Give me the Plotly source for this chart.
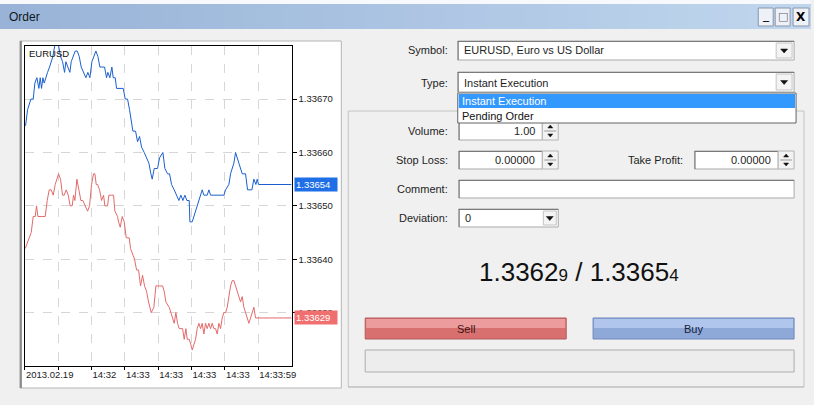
import plotly.graph_objects as go

W, H = 814, 405

# ---------------- data ----------------
ask_t = [0.02, 0.08, 0.18, 0.25, 0.30, 0.36, 0.42, 0.46, 0.50, 0.54, 0.58, 0.62, 0.68, 0.74, 0.80, 0.84,
         0.95, 1.07, 1.13, 1.19, 1.23, 1.29, 1.35, 1.39, 1.45, 1.51, 1.57, 1.63, 1.69, 1.77, 1.83, 1.89,
         1.95, 2.01, 2.07, 2.13, 2.19, 2.25, 2.31, 2.39, 2.45, 2.49, 2.55, 2.61, 2.65, 2.71, 2.75, 2.95,
         3.01, 3.08, 3.14, 3.19, 3.24, 3.32, 3.38, 3.44, 3.50, 3.58, 3.64, 3.72, 3.78, 3.82, 3.88, 3.98,
         4.04, 4.14, 4.20, 4.28, 4.34, 4.40, 4.48, 4.56, 4.62, 4.68, 4.74, 4.80, 4.86, 4.93, 4.95, 5.02,
         5.07, 5.13, 5.22, 5.27, 5.32, 5.37, 5.47, 5.52, 5.57, 5.97, 6.02, 6.12, 6.17, 6.27, 6.32, 6.42,
         6.52, 6.62, 6.68, 6.81, 6.87, 6.93, 6.97, 7.01, 8.00]
ask_price = [1.33665, 1.33668, 1.33670, 1.33670, 1.33673, 1.33674, 1.33672, 1.33674, 1.33672, 1.33674,
             1.33673, 1.33674, 1.33675, 1.33676, 1.33677, 1.33678, 1.33682, 1.33678, 1.33677, 1.33675,
             1.33677, 1.33676, 1.33675, 1.33677, 1.33678, 1.33679, 1.33679, 1.33678, 1.33676, 1.33675,
             1.33674, 1.33675, 1.33674, 1.33677, 1.33678, 1.33679, 1.33678, 1.33676, 1.33676, 1.33676,
             1.33674, 1.33675, 1.33674, 1.33676, 1.33674, 1.33674, 1.33672, 1.33672, 1.33670, 1.33670,
             1.33668, 1.33666, 1.33664, 1.33664, 1.33662, 1.33663, 1.33661, 1.33660, 1.33659, 1.33658,
             1.33656, 1.33655, 1.33657, 1.33657, 1.33659, 1.33660, 1.33657, 1.33656, 1.33656, 1.33654,
             1.33653, 1.33652, 1.33651, 1.33652, 1.33651, 1.33652, 1.33651, 1.33651, 1.33647, 1.33647,
             1.33648, 1.33649, 1.33651, 1.33652, 1.33653, 1.33652, 1.33652, 1.33653, 1.33652, 1.33652,
             1.33653, 1.33654, 1.33656, 1.33658, 1.33660, 1.33658, 1.33656, 1.33656, 1.33653, 1.33653,
             1.33655, 1.33654, 1.33655, 1.33654, 1.33654]

bid_t = [0.01, 0.07, 0.13, 0.19, 0.25, 0.31, 0.35, 0.39, 0.49, 0.61, 0.67, 0.73, 0.79, 0.85, 0.91, 0.97,
         1.01, 1.07, 1.13, 1.18, 1.24, 1.30, 1.36, 1.42, 1.46, 1.50, 1.56, 1.62, 1.68, 1.74, 1.80, 1.88,
         1.94, 2.00, 2.06, 2.10, 2.14, 2.18, 2.24, 2.30, 2.36, 2.40, 2.48, 2.52, 2.60, 2.66, 2.70, 2.78,
         2.81, 2.86, 2.92, 2.98, 3.04, 3.13, 3.17, 3.23, 3.29, 3.35, 3.41, 3.47, 3.53, 3.59, 3.65, 3.71,
         3.79, 3.87, 3.93, 4.03, 4.13, 4.18, 4.23, 4.33, 4.38, 4.43, 4.48, 4.53, 4.58, 4.63, 4.73, 4.78,
         4.83, 4.87, 4.93, 4.98, 5.02, 5.07, 5.12, 5.17, 5.22, 5.27, 5.32, 5.37, 5.42, 5.47, 5.52, 5.57,
         5.62, 5.67, 5.72, 5.77, 5.82, 5.87, 5.92, 5.97, 6.02, 6.07, 6.12, 6.17, 6.22, 6.27, 6.32, 6.37,
         6.42, 6.47, 6.52, 6.57, 6.62, 6.67, 6.72, 6.77, 6.82, 6.87, 6.92, 6.97, 8.00]
bid_price = [1.33642, 1.33643, 1.33644, 1.33645, 1.33648, 1.33648, 1.33650, 1.33648, 1.33648, 1.33648,
             1.33651, 1.33653, 1.33653, 1.33652, 1.33654, 1.33655, 1.33656, 1.33655, 1.33652, 1.33652,
             1.33653, 1.33652, 1.33650, 1.33650, 1.33652, 1.33651, 1.33655, 1.33653, 1.33651, 1.33651,
             1.33650, 1.33649, 1.33650, 1.33654, 1.33656, 1.33656, 1.33654, 1.33654, 1.33653, 1.33651,
             1.33652, 1.33650, 1.33650, 1.33652, 1.33652, 1.33652, 1.33649, 1.33648, 1.33647, 1.33646,
             1.33648, 1.33647, 1.33644, 1.33644, 1.33642, 1.33641, 1.33640, 1.33638, 1.33638, 1.33635,
             1.33637, 1.33635, 1.33634, 1.33632, 1.33630, 1.33631, 1.33635, 1.33635, 1.33635, 1.33634,
             1.33632, 1.33631, 1.33630, 1.33629, 1.33628, 1.33630, 1.33628, 1.33627, 1.33627, 1.33625,
             1.33627, 1.33625, 1.33625, 1.33624, 1.33623, 1.33624, 1.33625, 1.33627, 1.33628, 1.33627,
             1.33628, 1.33626, 1.33628, 1.33627, 1.33628, 1.33627, 1.33628, 1.33627, 1.33627, 1.33626,
             1.33628, 1.33627, 1.33629, 1.33630, 1.33630, 1.33631, 1.33633, 1.33635, 1.33636, 1.33636,
             1.33635, 1.33634, 1.33633, 1.33632, 1.33633, 1.33631, 1.33630, 1.33629, 1.33628, 1.33629,
             1.33630, 1.33631, 1.33629, 1.33629, 1.33629]

x_tick_vals = [0, 1, 2, 3, 4, 5, 6, 7]
x_tick_text = ["2013.02.19", "", "14:32", "14:33", "14:33", "14:33", "14:33", "14:33:59"]
y_tick_vals = [1.33630, 1.33640, 1.33650, 1.33660, 1.33670]
y_range = [1.33620, 1.33680]

symbol_text = "EURUSD, Euro vs US Dollar"
type_options = ["Instant Execution", "Pending Order"]
volume_text = "1.00"
stop_loss_text = "0.00000"
take_profit_text = "0.00000"
deviation_text = "0"

# ---------------- helpers ----------------
UI = "Liberation Sans, Arial, sans-serif"


def X(x):
    return x / W


def Y(y):
    return 1 - y / H


shapes = []
annotations = []


def rect(x0, y0, x1, y1, fill, line=None, lw=1, layer="above"):
    shapes.append(dict(type="rect", xref="paper", yref="paper",
                       x0=X(x0), y0=Y(y1), x1=X(x1), y1=Y(y0),
                       fillcolor=fill, layer=layer,
                       line=dict(color=line if line else "rgba(0,0,0,0)", width=lw if line else 0)))


def hline(x0, x1, y, color, lw=1, layer="above"):
    shapes.append(dict(type="line", xref="paper", yref="paper", x0=X(x0), x1=X(x1), y0=Y(y), y1=Y(y),
                       line=dict(color=color, width=lw), layer=layer))


def vline(x, y0, y1, color, lw=1, layer="above"):
    shapes.append(dict(type="line", xref="paper", yref="paper", x0=X(x), x1=X(x), y0=Y(y0), y1=Y(y1),
                       line=dict(color=color, width=lw), layer=layer))


def tri(cx, cy, w, h, up=False, color="#111"):
    if up:
        p = f"M {X(cx - w/2)} {Y(cy + h/2)} L {X(cx + w/2)} {Y(cy + h/2)} L {X(cx)} {Y(cy - h/2)} Z"
    else:
        p = f"M {X(cx - w/2)} {Y(cy - h/2)} L {X(cx + w/2)} {Y(cy - h/2)} L {X(cx)} {Y(cy + h/2)} Z"
    shapes.append(dict(type="path", xref="paper", yref="paper", path=p, fillcolor=color,
                       line=dict(color=color, width=0.5)))


def text(x, y, s, anchor="left", size=11, color="#1e1e1e", family=UI, **kw):
    annotations.append(dict(xref="paper", yref="paper", x=X(x), y=Y(y), text=s, showarrow=False,
                            xanchor=anchor, yanchor="middle", font=dict(size=size, color=color, family=family),
                            **kw))


def field(x0, y0, x1, y1):
    rect(x0, y0, x1, y1, "white", "#a9a9a9")
    hline(x0, x1, y0 + 0.5, "#7a7a7a")
    vline(x0 + 0.5, y0, y1, "#7a7a7a")


def spin(x0, y0, x1, y1):
    rect(x0, y0, x1, y1, "#f2f2f2", "#b4b4b4")
    ym = (y0 + y1) / 2
    hline(x0 + 2, x1 - 2, ym, "#9a9a9a")
    cx = (x0 + x1) / 2
    tri(cx, (y0 + ym) / 2, 5, 3, up=True)
    tri(cx, (ym + y1) / 2, 5, 3, up=False)


def combo_arrow(x0, y0, x1, y1):
    rect(x0, y0, x1, y1, "#f4f4f4", "#c4c4c4")
    tri((x0 + x1) / 2, (y0 + y1) / 2 + 0.5, 7, 4)


# ---------------- window chrome ----------------
rect(0, 0, W, 4, "#f7f9fc", layer="below")
n = 40
c0, c1 = (0x98, 0xb3, 0xd7), (0xc0, 0xd6, 0xee)
for i in range(n):
    f = i / (n - 1)
    col = "rgb(%d,%d,%d)" % tuple(round(c0[k] + (c1[k] - c0[k]) * f) for k in range(3))
    rect(W * i / n, 4, W * (i + 1) / n + 1, 29, col, layer="below")
text(7, 17, "Order", size=12, color="#101820")
for (bx0, bx1) in [(762, 777), (779, 794), (797, 813)]:
    rect(bx0, 8, bx1, 26, "#eef2f8", "#8a96a8")
text(769.5, 15, "_", anchor="center", size=12, color="#000", family="DejaVu Sans")
text(786.5, 17, "□", anchor="center", size=11, color="#666", family="DejaVu Sans")
text(805, 17, "<b>X</b>", anchor="center", size=12, color="#000", family="DejaVu Sans")

# chart panel
rect(20, 41, 343, 388, "white", "#b5b5b5", layer="below")
vline(21, 41, 388, "#8a8a8a", lw=2, layer="below")

# ---------------- chart ----------------
fig = go.Figure()
fig.add_trace(go.Scatter(x=ask_t, y=ask_price, mode="lines", line=dict(color="#1b5fcf", width=1),
                         hoverinfo="skip"))
fig.add_trace(go.Scatter(x=bid_t, y=bid_price, mode="lines", line=dict(color="#e36a6a", width=1),
                         hoverinfo="skip"))

annotations.append(dict(xref="paper", yref="paper", x=X(27), y=Y(53), text="EURUSD", showarrow=False,
                        xanchor="left", yanchor="middle", font=dict(size=9.5, color="#111", family=UI)))

# current price labels
for price, bg in [(ask_price[-1], "#1f6fe6"), (bid_price[-1], "#f07070")]:
    annotations.append(dict(xref="paper", yref="y", x=X(295), y=price, text=f"{price:.5f}",
                            showarrow=False, xanchor="left", yanchor="middle", width=40, align="left",
                            bgcolor=bg, borderpad=1, font=dict(size=9.5, color="white", family=UI)))

# ---------------- order panel ----------------
hline(350, 808, 111, "#c4c4c4")
vline(350, 111, 387, "#c4c4c4")
vline(808, 111, 387, "#c4c4c4")
hline(350, 808, 387, "#a8a8a8")

text(452, 50.5, "Symbol:", anchor="right")
field(460, 41, 798, 60)
combo_arrow(780, 43, 796, 58)
text(464, 50.5, symbol_text)

text(452, 82.5, "Type:", anchor="right")
field(460, 72, 798, 92)
combo_arrow(780, 74, 796, 90)
text(464, 82.5, type_options[0])

text(452, 131, "Volume:", anchor="right")
field(461, 122, 545, 140)
spin(545, 122, 561, 140)
text(540, 131, volume_text, anchor="right")

rect(460, 93, 800, 123, "white", "#646464")
rect(461, 94, 799, 108, "#3399ff")
text(462, 101, type_options[0], color="white")
text(462, 115.5, type_options[1], color="#111")

text(452, 160, "Stop Loss:", anchor="right")
field(461, 151, 545, 169)
spin(545, 151, 561, 169)
text(540, 160, stop_loss_text, anchor="right")

text(688, 160, "Take Profit:", anchor="right")
field(698, 151, 782, 169)
spin(782, 151, 798, 169)
text(777, 160, take_profit_text, anchor="right")

text(452, 189, "Comment:", anchor="right")
field(461, 180, 798, 198)

text(452, 218, "Deviation:", anchor="right")
field(461, 209, 561, 227)
combo_arrow(546, 211, 559, 225)
text(465, 218, deviation_text)

bid_s = f"{bid_price[-1]:.5f}"
ask_s = f"{ask_price[-1]:.5f}"
big = (f"{bid_s[:-1]}<span style='font-size:17px'>{bid_s[-1]}</span> / "
       f"{ask_s[:-1]}<span style='font-size:17px'>{ask_s[-1]}</span>")
text(582, 272, big, anchor="center", size=26, color="#111")

rect(367, 318, 569, 339, "#d97070", "#b45a5a")
rect(368, 319, 568, 328, "#ec9c9c")
text(468, 329, "Sell", anchor="center", color="#3a1414")
rect(596, 318, 798, 339, "#8ea8d8", "#7088be")
rect(597, 319, 797, 328, "#b0c6ec")
text(697, 329, "Buy", anchor="center", color="#14223a")

rect(367, 350, 798, 372, "#ededed", "#adadad")

fig.update_layout(
    width=W, height=H, margin=dict(l=0, r=0, t=0, b=0),
    paper_bgcolor="#f0f0f0", plot_bgcolor="white", showlegend=False,
    shapes=shapes, annotations=annotations,
    xaxis=dict(domain=[X(25), X(293)], range=[0, 8], tickmode="array", tickvals=x_tick_vals,
               ticktext=x_tick_text, ticks="outside", ticklen=3, tickcolor="#000", tickangle=0,
               showline=True, linecolor="#000", linewidth=1, mirror=True,
               showgrid=True, gridcolor="#d6d6d6", griddash="dash", gridwidth=1, zeroline=False,
               ticklabelposition="outside right",
               tickfont=dict(size=9.5, color="#222", family=UI)),
    yaxis=dict(domain=[Y(366), Y(45.7)], range=y_range, side="right", tickmode="array",
               tickvals=y_tick_vals, ticktext=[f"{v:.5f}" for v in y_tick_vals],
               ticks="outside", ticklen=4, tickcolor="#000",
               showline=True, linecolor="#000", linewidth=1, mirror=True,
               showgrid=True, gridcolor="#d6d6d6", griddash="dash", gridwidth=1, zeroline=False,
               tickfont=dict(size=9.5, color="#222", family=UI)),
)

fig.write_html("out.html", config={"displayModeBar": False},
               post_script="document.body.style.margin='0px';document.body.style.overflow='hidden';")
